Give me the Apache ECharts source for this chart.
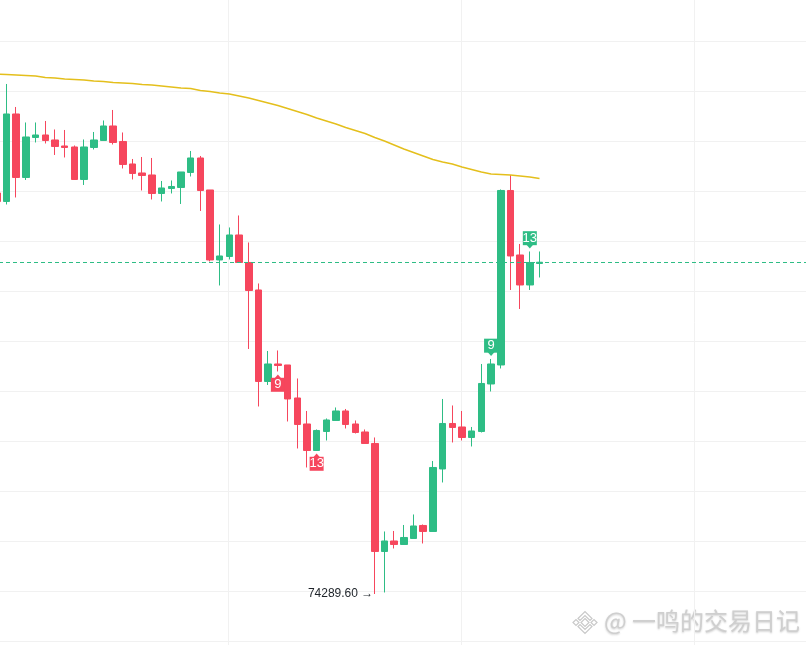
<!DOCTYPE html>
<html><head><meta charset="utf-8">
<script src="https://cdn.jsdelivr.net/npm/echarts@6/dist/echarts.min.js"></script>
<style>html,body{margin:0;padding:0;background:#fff}#main{width:806px;height:645px}</style>
</head><body><div id="main"></div>
<script>
// ---- data (one entry per candle, oldest first) ----
const categories = ['0','1','2','3','4','5','6','7','8','9','10','11','12','13','14','15','16','17','18','19','20','21','22','23','24','25','26','27','28','29','30','31','32','33','34','35','36','37','38','39','40','41','42','43','44','45','46','47','48','49','50','51','52','53','54','55','56'];
const opens  = [82310,82140,83890,82620,83420,83470,83370,83250,83230,82580,83220,83360,83650,83340,82890,82710,82670,82300,82400,82420,82720,83010,82370,80970,81040,81470,80920,80370,78540,78890,78870,78210,77690,77160,77540,77760,77950,77690,77530,77300,75140,75350,75280,75400,75660,75540,76790,77700,77630,77420,77540,78490,78870,82360,81070,80470,80900];
const closes = [82140,83890,82620,83430,83470,83360,83240,83220,82580,83230,83370,83650,83320,82880,82700,82660,82300,82410,82440,82730,83010,82360,80970,81050,81470,80920,80360,78540,78890,78860,78190,77680,77160,77560,77770,77950,77680,77520,77300,75140,75350,75280,75420,75650,75540,76820,77700,77620,77420,77550,78500,78890,82360,81050,80470,80920,80925];
const lows   = [82090,82080,82220,82570,83320,83300,83070,83020,82580,82470,83180,83360,83280,82800,82580,82360,82180,82140,82300,82090,82640,81950,80940,80460,80980,80920,79190,78040,78470,78740,77740,77200,76820,77160,77360,77760,77600,77500,77300,74289.6,74320,75200,75280,75400,75300,75540,76520,77320,77360,77240,77520,78340,78800,80370,79990,80370,80620];
const highs  = [82370,84490,84030,83720,83720,83750,83580,83570,83260,83380,83530,83760,83970,83520,82990,83030,83010,82550,82560,82730,83150,83050,82370,81680,81620,81860,81320,80500,79150,79160,78870,78600,77950,77580,77800,78020,77990,77760,77580,77420,75540,75550,75670,75880,75680,76950,78190,78060,77950,77630,78890,78990,82380,82670,81290,81140,81140];
const maValues = [84690,84680,84670,84660,84650,84620,84610,84590,84580,84570,84550,84540,84520,84510,84500,84480,84470,84450,84430,84410,84400,84360,84340,84310,84290,84250,84210,84160,84110,84060,84000,83940,83880,83810,83750,83690,83620,83560,83500,83420,83350,83270,83190,83120,83050,82980,82930,82890,82830,82780,82730,82690,82680,82670,82650,82630,82600];
// TD sequential counts
const tdIndex = [29, 33, 51, 55];
const tdText  = ['9', '13', '9', '13'];
const tdSide  = ['below', 'below', 'above', 'above'];
const watermark = '@ 一鸣的交易日记';

// ---- styling / layout ----
const UP = '#2EBD85', DOWN = '#F6465D', GRID = '#F1F1F1', MA = '#E4BF1C';
const SLOTS = 84; // visible candle slots across the chart width
const axisCats = categories.concat(Array.from({length: SLOTS - categories.length}, (_, i) => '+' + i));
const candles = categories.map((c, i) => [opens[i], closes[i], lows[i], highs[i]]);
const lastClose = closes[closes.length - 1];
let lowIdx = 0;
lows.forEach((v, i) => { if (v < lows[lowIdx]) lowIdx = i; });

const marks = [];
tdIndex.forEach((idx, k) => {
  const below = tdSide[k] === 'below';
  const col = below ? DOWN : UP;
  const val = below ? lows[idx] : highs[idx];
  const sgn = below ? 1 : -1;
  marks.push({
    coord: [axisCats[idx], val], symbol: 'triangle', symbolSize: [7, 4],
    symbolOffset: [0, 5 * sgn], symbolRotate: below ? 0 : 180,
    itemStyle: {color: col}, label: {show: false}
  });
  marks.push({
    coord: [axisCats[idx], val], symbol: 'rect', symbolSize: [14, 14],
    symbolOffset: [0, 13.3 * sgn], itemStyle: {color: col},
    label: {show: true, position: 'inside', formatter: tdText[k], color: '#fff',
            fontSize: 13, fontFamily: '"Liberation Sans", Arial, sans-serif'}
  });
});
marks.push({
  coord: [axisCats[lowIdx], lows[lowIdx]], symbol: 'circle', symbolSize: 1,
  itemStyle: {color: 'rgba(0,0,0,0)'},
  label: {show: true, position: 'left', distance: 1, formatter: lows[lowIdx].toFixed(2) + ' →',
          color: '#1E2329', fontSize: 12, fontFamily: '"Liberation Sans", Arial, sans-serif'}
});

const hiddenAxisParts = {axisLine: {show: false}, axisTick: {show: false}, axisLabel: {show: false}};

const chart = echarts.init(document.getElementById('main'), null, {renderer: 'canvas'});
chart.setOption({
  animation: false,
  backgroundColor: '#ffffff',
  grid: [
    {left: -8, right: 0, top: 8.48, bottom: 11.52, outerBoundsMode: 'none', containLabel: false},
    {left: 0, right: 0, top: 41.5, bottom: 3.5, outerBoundsMode: 'none'},
    {left: 228.5, right: 111.5, top: 0, bottom: 0, outerBoundsMode: 'none'}
  ],
  xAxis: [
    {type: 'category', gridIndex: 0, data: axisCats, show: false, boundaryGap: true},
    {type: 'value', gridIndex: 1, min: 0, max: 1, show: false},
    Object.assign({type: 'value', gridIndex: 2, min: 0, max: 2, interval: 1,
      splitLine: {show: true, lineStyle: {color: GRID, width: 1}}}, hiddenAxisParts)
  ],
  yAxis: [
    {type: 'value', gridIndex: 0, min: 73500, max: 86000, show: false, scale: true},
    Object.assign({type: 'value', gridIndex: 1, min: 0, max: 12, interval: 1,
      splitLine: {show: true, lineStyle: {color: GRID, width: 1}}}, hiddenAxisParts),
    {type: 'value', gridIndex: 2, min: 0, max: 1, show: false}
  ],
  series: [
    {
      type: 'candlestick', xAxisIndex: 0, yAxisIndex: 0, data: candles, barWidth: 7,
      itemStyle: {color: UP, color0: DOWN, borderColor: UP, borderColor0: DOWN, borderWidth: 1},
      markLine: {
        silent: true, symbol: ['none', 'none'], label: {show: false}, animation: false,
        lineStyle: {color: UP, type: [4, 3], width: 1},
        data: [{yAxis: lastClose}]
      },
      markPoint: {silent: true, animation: false, data: marks},
      z: 3
    },
    {
      type: 'line', xAxisIndex: 0, yAxisIndex: 0, data: maValues, symbol: 'none',
      lineStyle: {color: MA, width: 1.5}, z: 4, silent: true
    }
  ],
  graphic: [
    {
      type: 'group', x: 585, y: 622.5, silent: true,
      children: [
        {type: 'polygon', shape: {points: [[0,-4],[4,0],[0,4],[-4,0]]}, style: {fill: '#fff', stroke: '#C9C9C9', lineWidth: 1.2}},
        {type: 'polygon', shape: {points: [[-12,0],[-9,-3],[-6,0],[-9,3]]}, style: {fill: '#fff', stroke: '#C9C9C9', lineWidth: 1.2}},
        {type: 'polygon', shape: {points: [[12,0],[9,-3],[6,0],[9,3]]}, style: {fill: '#fff', stroke: '#C9C9C9', lineWidth: 1.2}},
        {type: 'polygon', shape: {points: [[-7,-4],[0,-11],[7,-4],[5,-2],[0,-7],[-5,-2]]}, style: {fill: '#fff', stroke: '#C9C9C9', lineWidth: 1.2}},
        {type: 'polygon', shape: {points: [[-7,4],[0,11],[7,4],[5,2],[0,7],[-5,2]]}, style: {fill: '#fff', stroke: '#C9C9C9', lineWidth: 1.2}}
      ]
    },
    {
      type: 'text', x: 800, y: 621, silent: true,
      style: {
        text: watermark, font: '24px "Noto Sans CJK SC", sans-serif', fill: '#CFCFCF',
        align: 'right', verticalAlign: 'middle', textAlign: 'right', textVerticalAlign: 'middle',
        textShadowColor: 'rgba(0,0,0,0.18)', textShadowBlur: 2, textShadowOffsetY: 1
      }
    }
  ]
});
</script>
</body></html>
